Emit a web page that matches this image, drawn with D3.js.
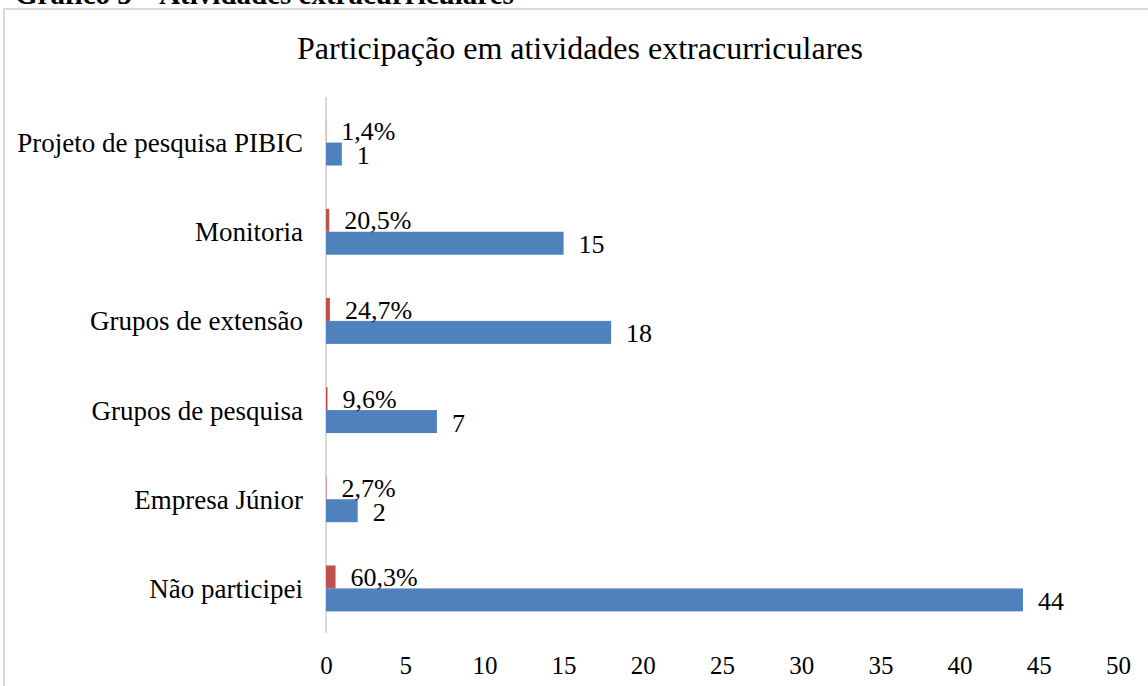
<!DOCTYPE html>
<html>
  <head>
    <meta charset="UTF-8" />
    <script src="https://cdn.jsdelivr.net/npm/d3@7"></script>
    <title>Participação em atividades extracurriculares</title>
    <style type="text/css">
      body { margin: 0; background: #fff; }
      svg text { font-family: "Liberation Serif", "Times New Roman", serif; fill: #000; }
    </style>
  </head>
  <body>
    <div id="chartcontainer"></div>
    <script>
      // data, top to bottom
      var categories = [
        "Projeto de pesquisa PIBIC",
        "Monitoria",
        "Grupos de extensão",
        "Grupos de pesquisa",
        "Empresa Júnior",
        "Não participei",
      ];
      var counts = [1, 15, 18, 7, 2, 44];
      var percents = [1.4, 20.5, 24.7, 9.6, 2.7, 60.3]; // drawn as fractions, like the original
      var xTicks = [0, 5, 10, 15, 20, 25, 30, 35, 40, 45, 50];
      var series = ["pct", "count"];

      var width = 1148,
        height = 686;

      var svg = d3
        .select("#chartcontainer")
        .append("svg")
        .attr("width", width)
        .attr("height", height);

      // caption from the document, cut off at the top
      svg
        .append("text")
        .attr("x", 15)
        .attr("y", 4)
        .attr("font-size", 29)
        .attr("font-weight", "bold")
        .text("Gráfico 5 – Atividades extracurriculares");

      // chart area border
      svg
        .append("rect")
        .attr("x", 4)
        .attr("y", 9)
        .attr("width", 1160)
        .attr("height", 700)
        .attr("fill", "none")
        .attr("stroke", "#d9d9d9")
        .attr("stroke-width", 2);

      svg
        .append("text")
        .attr("x", 580)
        .attr("y", 59)
        .attr("text-anchor", "middle")
        .attr("font-size", 32)
        .text("Participação em atividades extracurriculares");

      var x = d3.scaleLinear().domain([0, 50]).range([326, 1118]);

      var y = d3
        .scaleBand()
        .domain(categories)
        .range([98, 633])
        .paddingInner(0.485)
        .paddingOuter(0.2425);

      var ySub = d3.scaleBand().domain(series).range([0, y.bandwidth()]);

      // x axis: labels only
      var xAxis = svg
        .append("g")
        .attr("transform", "translate(0,665)")
        .call(d3.axisBottom(x).tickValues(xTicks).tickSize(0).tickPadding(0));
      xAxis.select(".domain").remove();
      xAxis.attr("font-size", null).attr("font-family", null);
      xAxis.selectAll("text").attr("font-size", 25).attr("dy", "0.35em");

      // y axis: grey line and category labels
      var yAxis = svg
        .append("g")
        .attr("transform", "translate(326,0)")
        .call(d3.axisLeft(y).tickSize(0).tickPadding(23));
      yAxis
        .select(".domain")
        .attr("stroke", "#d9d9d9")
        .attr("stroke-width", 2)
        .attr("d", "M0," + (y.range()[0] - 1) + "V" + y.range()[1]);
      yAxis.attr("font-size", null).attr("font-family", null);
      yAxis.selectAll("text").attr("font-size", 27).attr("dy", "0.35em");

      var rows = categories.map(function (c, i) {
        return { cat: c, count: counts[i], pct: percents[i] };
      });

      // red bars (percent as fraction)
      svg
        .selectAll(".pct")
        .data(rows)
        .enter()
        .append("rect")
        .attr("class", "pct")
        .attr("x", x(0))
        .attr("y", function (d) { return y(d.cat) + ySub("pct"); })
        .attr("width", function (d) { return x(d.pct / 100) - x(0); })
        .attr("height", ySub.bandwidth())
        .attr("fill", "#c0504d");

      // blue bars (counts)
      svg
        .selectAll(".count")
        .data(rows)
        .enter()
        .append("rect")
        .attr("class", "count")
        .attr("x", x(0))
        .attr("y", function (d) { return y(d.cat) + ySub("count"); })
        .attr("width", function (d) { return x(d.count) - x(0); })
        .attr("height", ySub.bandwidth())
        .attr("fill", "#4f81bd");

      svg
        .selectAll(".pctlabel")
        .data(rows)
        .enter()
        .append("text")
        .attr("x", function (d) { return x(d.pct / 100) + 15; })
        .attr("y", function (d) { return y(d.cat) + ySub("pct") + ySub.bandwidth() / 2; })
        .attr("dy", "0.35em")
        .attr("font-size", 26)
        .text(function (d) { return d.pct.toFixed(1).replace(".", ",") + "%"; });

      svg
        .selectAll(".countlabel")
        .data(rows)
        .enter()
        .append("text")
        .attr("x", function (d) { return x(d.count) + 15; })
        .attr("y", function (d) { return y(d.cat) + ySub("count") + ySub.bandwidth() / 2 + 1; })
        .attr("dy", "0.35em")
        .attr("font-size", 26)
        .text(function (d) { return d.count; });
    </script>
  </body>
</html>
